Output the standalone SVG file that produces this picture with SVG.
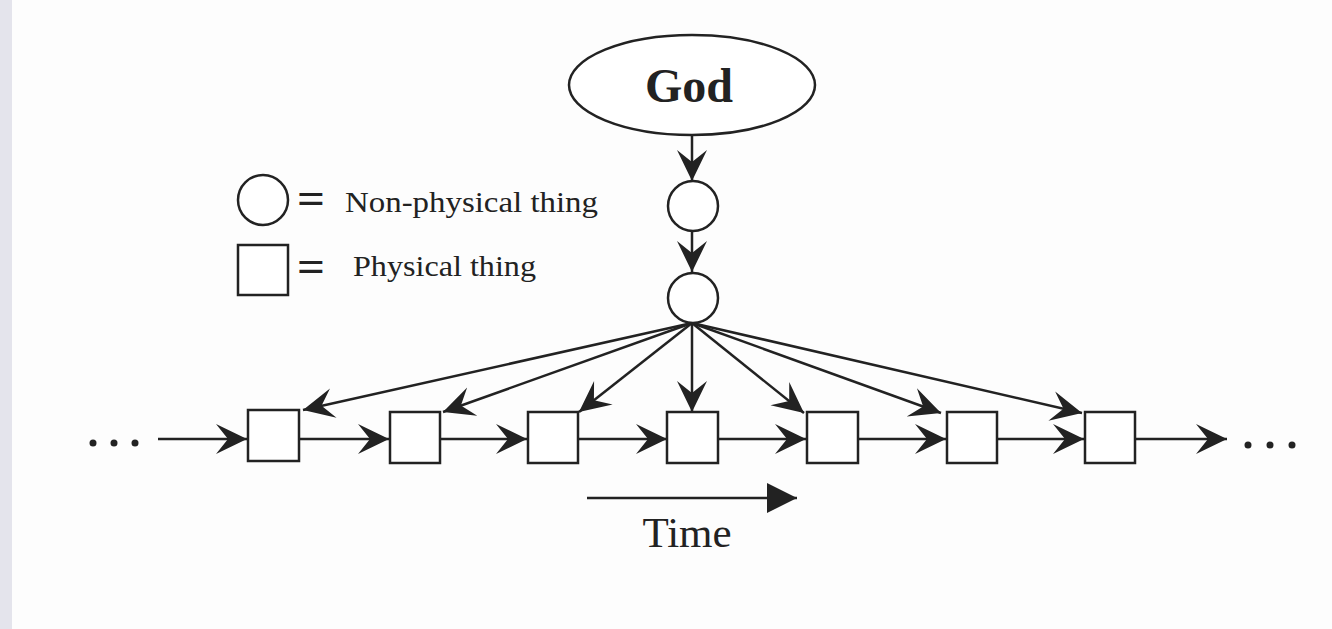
<svg xmlns="http://www.w3.org/2000/svg" width="1332" height="629" viewBox="0 0 1332 629">
<defs>
<style>
.s{fill:#fff;stroke:#222;stroke-width:2.5}
.c{stroke:#222;stroke-width:2.5;fill:none}
.t{font-family:"Liberation Serif","Times New Roman",serif;fill:#222}
</style>
<marker id="barb" viewBox="-34 -18 36 36" refX="0" refY="0" markerWidth="36" markerHeight="36" markerUnits="userSpaceOnUse" orient="auto">
<path d="M0,0 L-31,-15 L-19,0 L-31,15 Z" fill="#222"/>
</marker>
<marker id="tri" viewBox="-32 -17 34 34" refX="0" refY="0" markerWidth="34" markerHeight="34" markerUnits="userSpaceOnUse" orient="auto">
<path d="M0,0 L-30,-15 L-30,15 Z" fill="#222"/>
</marker>
</defs>
<rect width="1332" height="629" fill="#fdfdfd"/>
<rect x="0" y="0" width="12" height="629" fill="#e4e4ec"/>

<g id="connectors">
<line class="c" x1="692" y1="135" x2="692" y2="181" marker-end="url(#barb)"/>
<line class="c" x1="692" y1="231" x2="692" y2="272" marker-end="url(#barb)"/>
<line class="c" x1="692" y1="323" x2="303" y2="410" marker-end="url(#barb)"/>
<line class="c" x1="692" y1="323" x2="443" y2="412" marker-end="url(#barb)"/>
<line class="c" x1="692" y1="323" x2="579" y2="412" marker-end="url(#barb)"/>
<line class="c" x1="692" y1="323" x2="692" y2="412" marker-end="url(#barb)"/>
<line class="c" x1="692" y1="323" x2="804" y2="413" marker-end="url(#barb)"/>
<line class="c" x1="692" y1="323" x2="941" y2="413" marker-end="url(#barb)"/>
<line class="c" x1="692" y1="323" x2="1082" y2="413" marker-end="url(#barb)"/>
<line class="c" x1="158" y1="439" x2="247" y2="439" marker-end="url(#barb)"/>
<line class="c" x1="299" y1="439" x2="389" y2="439" marker-end="url(#barb)"/>
<line class="c" x1="440" y1="439" x2="527" y2="439" marker-end="url(#barb)"/>
<line class="c" x1="578" y1="439" x2="667" y2="439" marker-end="url(#barb)"/>
<line class="c" x1="718" y1="439" x2="806" y2="439" marker-end="url(#barb)"/>
<line class="c" x1="858" y1="439" x2="946" y2="439" marker-end="url(#barb)"/>
<line class="c" x1="997" y1="439" x2="1084" y2="439" marker-end="url(#barb)"/>
<line class="c" x1="1135" y1="439" x2="1227" y2="439" marker-end="url(#barb)"/>
<line class="c" x1="587" y1="498" x2="797" y2="498" marker-end="url(#tri)"/>
</g>

<g id="god">
<ellipse class="s" cx="692" cy="85" rx="123" ry="50"/>
<text class="t" x="689" y="102" font-size="48" font-weight="bold" text-anchor="middle">God</text>
</g>
<g id="np1"><circle class="s" cx="693" cy="206" r="25"/></g>
<g id="np2"><circle class="s" cx="693" cy="298" r="25"/></g>

<g id="p1"><rect class="s" x="248" y="410" width="51" height="51"/></g>
<g id="p2"><rect class="s" x="390" y="412" width="50" height="51"/></g>
<g id="p3"><rect class="s" x="528" y="412" width="50" height="51"/></g>
<g id="p4"><rect class="s" x="667" y="412" width="51" height="51"/></g>
<g id="p5"><rect class="s" x="807" y="412" width="51" height="51"/></g>
<g id="p6"><rect class="s" x="947" y="412" width="50" height="51"/></g>
<g id="p7"><rect class="s" x="1085" y="412" width="50" height="51"/></g>

<g id="dots" fill="#222">
<circle cx="93" cy="443" r="3.5"/><circle cx="114" cy="443" r="3.5"/><circle cx="135" cy="443" r="3.5"/>
<circle cx="1248" cy="445" r="3.5"/><circle cx="1270" cy="445" r="3.5"/><circle cx="1292" cy="445" r="3.5"/>
</g>

<g id="time">
<text class="t" x="687" y="547" font-size="43" text-anchor="middle">Time</text>
</g>

<g id="legend">
<circle class="s" cx="263" cy="200" r="25"/>
<text class="t" x="297" y="213" font-size="44" font-weight="bold" textLength="28" lengthAdjust="spacingAndGlyphs">=</text>
<text class="t" x="345" y="212" font-size="29" textLength="253" lengthAdjust="spacingAndGlyphs">Non-physical thing</text>
<rect class="s" x="238" y="245" width="50" height="50"/>
<text class="t" x="297" y="281" font-size="44" font-weight="bold" textLength="28" lengthAdjust="spacingAndGlyphs">=</text>
<text class="t" x="353" y="276" font-size="29" textLength="183" lengthAdjust="spacingAndGlyphs">Physical thing</text>
</g>
</svg>
